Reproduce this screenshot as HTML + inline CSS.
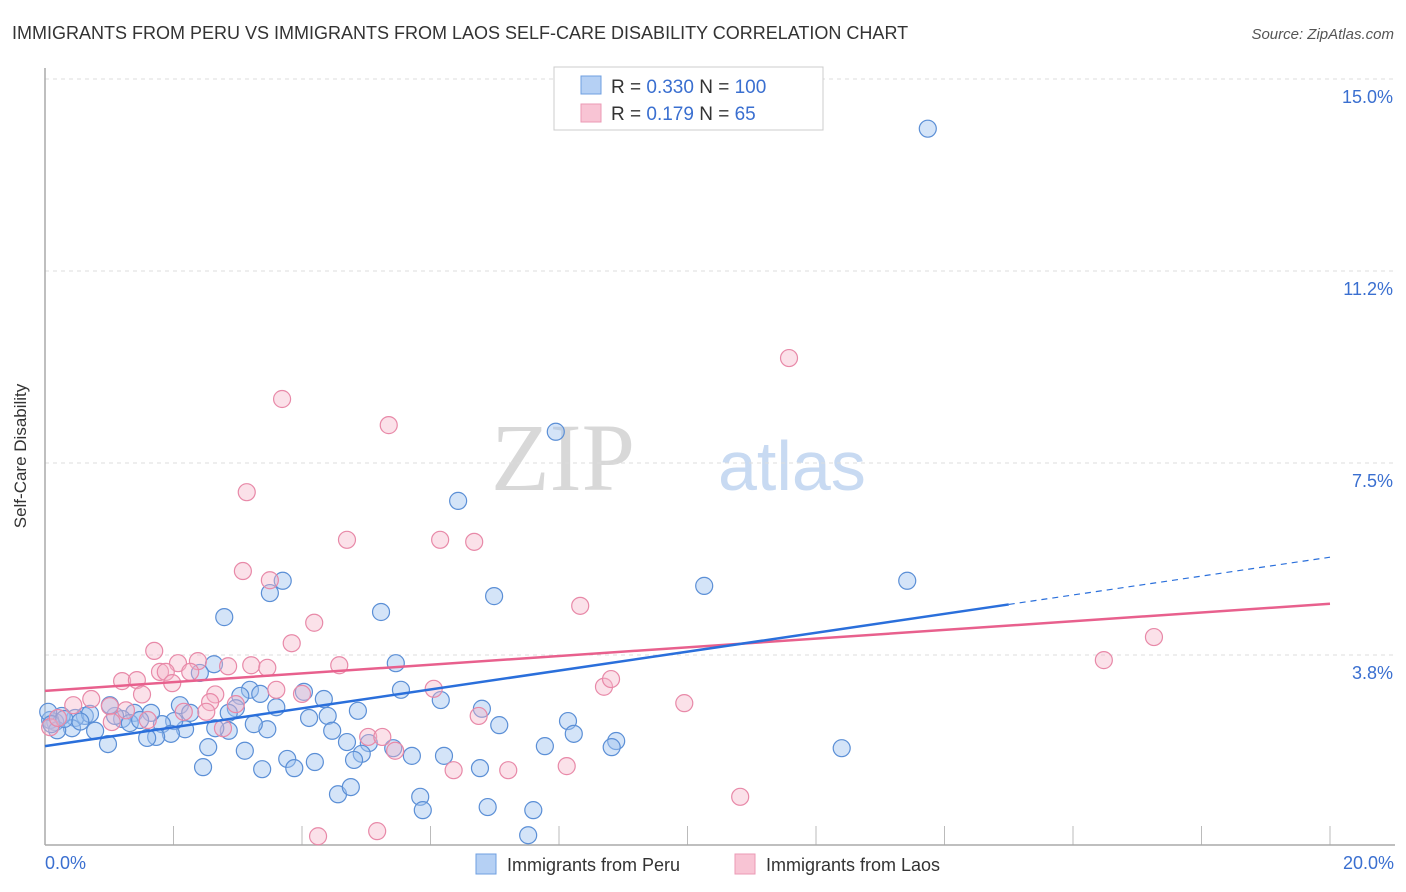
<!DOCTYPE html>
<html><head><meta charset="utf-8"><style>
body{margin:0;background:#fff;font-family:"Liberation Sans",sans-serif;}
svg{display:block}
</style></head><body>
<svg width="1406" height="892" viewBox="0 0 1406 892">
<text x="12" y="39" font-size="18" fill="#333">IMMIGRANTS FROM PERU VS IMMIGRANTS FROM LAOS SELF-CARE DISABILITY CORRELATION CHART</text>
<text x="1394" y="39" font-size="15" fill="#555" font-style="italic" text-anchor="end">Source: ZipAtlas.com</text>
<g><text x="635" y="490" font-family="Liberation Serif,serif" font-size="96" fill="#d8d8d8" text-anchor="end">ZIP</text><text x="718" y="490" font-size="70" fill="#c8daf2">atlas</text></g>
<g id="grid"></g>
<line x1="45" y1="68" x2="45" y2="845" stroke="#aaa" stroke-width="1.5"/>
<line x1="45" y1="845" x2="1395" y2="845" stroke="#aaa" stroke-width="1.5"/>
<text x="26" y="456" font-size="17" fill="#333" transform="rotate(-90 26 456)" text-anchor="middle">Self-Care Disability</text>
<text x="45" y="869" font-size="18" fill="#3a6fd0">0.0%</text>
<text x="1394" y="869" font-size="18" fill="#3a6fd0" text-anchor="end">20.0%</text>
<g id="pts"></g>
<g id="trends"></g>
<g>
<rect x="554" y="67" width="269" height="63" fill="#fff" stroke="#ccc"/>
<rect x="581" y="76" width="20" height="18" fill="#b5d0f4" stroke="#6f9fe0"/>
<rect x="581" y="104" width="20" height="18" fill="#f8c4d4" stroke="#eb9ab5"/>
<text x="611" y="93" font-size="19" fill="#333">R = <tspan fill="#3a6fd0">0.330</tspan>   N = <tspan fill="#3a6fd0">100</tspan></text>
<text x="611" y="120" font-size="19" fill="#333">R =  <tspan fill="#3a6fd0">0.179</tspan>   N =   <tspan fill="#3a6fd0">65</tspan></text>
</g>
<g>
<rect x="476" y="854" width="20" height="20" fill="#b5d0f4" stroke="#6f9fe0"/>
<text x="507" y="871" font-size="18" fill="#333">Immigrants from Peru</text>
<rect x="735" y="854" width="20" height="20" fill="#f8c4d4" stroke="#eb9ab5"/>
<text x="766" y="871" font-size="18" fill="#333">Immigrants from Laos</text>
</g>
</svg>
<script>
const yTicks=[15.0,11.25,7.5,3.75];
const yTickLabels=["15.0%","11.2%","7.5%","3.8%"];
const xTicks=[0,2,4,6,8,10,12,14,16,18,20];
const peruX=[13.74,7.95,6.43,10.26,13.42,3.70,3.50,6.99,5.23,2.79,2.63,5.46,2.41,5.54,6.16,3.19,3.35,4.03,4.34,3.04,3.60,4.87,6.80,7.07,8.14,8.23,8.89,8.82,7.78,12.4,4.11,4.40,4.47,4.70,5.04,4.93,4.81,5.42,5.71,6.21,3.77,3.88,4.20,3.38,2.46,2.54,3.11,3.46,3.25,2.86,2.97,2.86,2.65,2.18,2.10,2.26,2.01,1.82,1.96,1.73,1.59,1.65,1.39,1.20,1.09,1.01,0.78,0.98,0.62,0.47,0.42,0.26,0.16,0.08,0.05,0.19,4.56,4.76,5.84,5.88,6.77,6.89,7.60,7.52,1.32,1.48,0.70,0.10,0.30,0.55];
const peruY=[14.03,8.11,6.76,5.10,5.20,5.20,4.96,4.90,4.59,4.49,3.57,3.59,3.40,3.07,2.87,3.07,2.99,3.03,2.89,2.95,2.73,2.66,2.70,2.38,2.46,2.21,2.07,1.95,1.97,1.93,2.52,2.56,2.27,2.05,2.03,1.82,1.70,1.93,1.78,1.78,1.72,1.54,1.66,1.52,1.56,1.95,1.88,2.30,2.40,2.27,2.71,2.62,2.32,2.30,2.77,2.62,2.46,2.40,2.21,2.15,2.13,2.62,2.62,2.50,2.56,2.77,2.27,2.01,2.56,2.52,2.32,2.56,2.44,2.48,2.64,2.28,1.03,1.17,0.98,0.72,1.54,0.78,0.72,0.23,2.42,2.48,2.60,2.40,2.50,2.45];
const laosX=[11.58,3.69,5.35,3.14,4.70,6.15,6.68,3.08,3.50,8.33,4.19,3.84,17.26,16.48,1.70,2.07,2.38,2.85,3.21,3.46,4.58,1.79,1.88,2.26,1.20,1.43,1.98,1.51,2.65,3.60,4.00,6.05,8.70,8.81,0.72,2.57,2.97,9.95,0.44,1.01,1.26,2.16,2.51,6.75,1.04,1.60,2.77,0.08,5.03,5.25,5.45,6.36,7.21,8.12,10.82,4.25,5.17,0.20];
const laosY=[9.55,8.75,8.24,6.93,6.00,6.00,5.96,5.39,5.21,4.71,4.38,3.98,4.10,3.65,3.83,3.59,3.63,3.53,3.55,3.50,3.55,3.42,3.42,3.42,3.24,3.26,3.20,2.98,2.98,3.07,2.99,3.09,3.13,3.28,2.89,2.83,2.79,2.81,2.77,2.75,2.67,2.64,2.64,2.56,2.44,2.48,2.32,2.34,2.15,2.15,1.88,1.50,1.50,1.58,0.98,0.21,0.31,2.52];
const peruTrend=[1.97,5.66]; // y at x=0 and x=20
const laosTrend=[3.05,4.75];
const NS="http://www.w3.org/2000/svg";
const xs=v=>45+v*64.25, ys=v=>79+(15-v)*51.2;
function mk(t,a,p){const e=document.createElementNS(NS,t);for(const k in a)e.setAttribute(k,a[k]);p.appendChild(e);return e;}
const grid=document.getElementById('grid');
yTicks.forEach((v,i)=>{
 const l=mk('line',{x1:45,x2:1395,y1:ys(v),y2:ys(v),stroke:'#ddd','stroke-dasharray':'4,4'},grid);
 
 
 const t=mk('text',{x:1393,y:ys(v)+24,'font-size':18,fill:'#3a6fd0','text-anchor':'end'},grid);
 t.textContent=yTickLabels[i];
 
 
});
xTicks.forEach(v=>{
 const l=mk('line',{x1:xs(v),x2:xs(v),y1:826,y2:845,stroke:'#bbb'},grid);
 
 
});
const pts=document.getElementById('pts');
peruX.forEach((x,i)=>{
 const c=mk('circle',{cx:xs(x),cy:ys(peruY[i]),r:8.5,fill:'rgba(160,196,240,0.45)',stroke:'#5b8fd6','stroke-width':1.2},pts);
 
 
});
laosX.forEach((x,i)=>{
 const c=mk('circle',{cx:xs(x),cy:ys(laosY[i]),r:8.5,fill:'rgba(245,180,200,0.4)',stroke:'#e889a8','stroke-width':1.2},pts);
 
 
});
const tr=document.getElementById('trends');
const pk=mk('line',{x1:xs(0),y1:ys(laosTrend[0]),x2:xs(20),y2:ys(laosTrend[1]),stroke:'#e8608d','stroke-width':2.5},tr);


const xm=15;const ym=peruTrend[0]+(peruTrend[1]-peruTrend[0])*xm/20;
const b1=mk('line',{x1:xs(0),y1:ys(peruTrend[0]),x2:xs(xm),y2:ys(ym),stroke:'#2a6fdb','stroke-width':2.5},tr);


const b2=mk('line',{x1:xs(xm),y1:ys(ym),x2:xs(20),y2:ys(peruTrend[1]),stroke:'#2a6fdb','stroke-width':1.2,'stroke-dasharray':'6,5'},tr);


</script>
</body></html>
